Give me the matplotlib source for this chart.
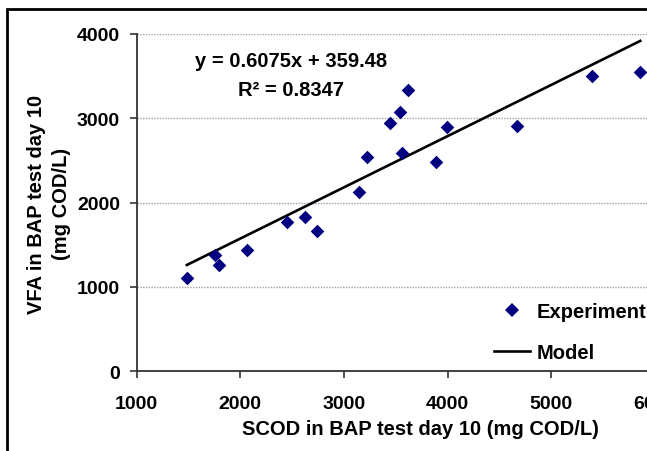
import matplotlib
matplotlib.use('Agg')
import matplotlib.pyplot as plt
from matplotlib.patches import Rectangle
from matplotlib.lines import Line2D

plt.rcParams['font.family'] = ['Liberation Sans', 'DejaVu Sans']
plt.rcParams['font.weight'] = 'bold'

# SCOD vs VFA, BAP test day 10
scod = [1484, 1754, 1790, 2060, 2454, 2621, 2740, 3146, 3221, 3448,
        3536, 3619, 3563, 3885, 3989, 4669, 5396, 5858]
vfa = [1107, 1380, 1265, 1439, 1775, 1830, 1660, 2131, 2538, 2949,
       3080, 3341, 2586, 2483, 2894, 2910, 3507, 3546]
slope, intercept = 0.6075, 359.48
r2 = 0.8347

fig = plt.figure(figsize=(6.47, 4.52), dpi=100)
# axes run past the right edge, as in the cropped original
ax = fig.add_axes([136.7 / 647, 79.7 / 452, 518.3 / 647, 337.3 / 452])

# outer chart frame
fig.patches.append(Rectangle((6.7 / 647, -0.2), 1.3, 1.2 - 10 / 452,
                             transform=fig.transFigure, fill=False,
                             lw=2, ec='black', zorder=0))

ax.scatter(scod, vfa, marker='D', s=48, color='#000080', zorder=3, lw=0)
xfit = [min(scod), max(scod)]
yfit = [slope * x + intercept for x in xfit]
ax.plot(xfit, yfit, color='black', lw=1.9, zorder=2)

ax.set_xlim(1000, 6000)
ax.set_ylim(0, 4000)
ax.set_xticks([1000, 2000, 3000, 4000, 5000, 6000])
ax.set_yticks([0, 1000, 2000, 3000, 4000])
ax.yaxis.grid(True, color='#a0a0a0', ls=(0, (1, 1)), lw=1)
ax.set_axisbelow(True)

for s in ['top', 'right']:
    ax.spines[s].set_visible(False)
for s in ['left', 'bottom']:
    ax.spines[s].set_color('#333333')
    ax.spines[s].set_linewidth(1.3)
ax.tick_params(axis='both', direction='out', length=5, width=1.2,
               color='#333333', labelsize=14)
ax.tick_params(axis='y', pad=7)
ax.tick_params(axis='x', pad=12)

ax.set_xlabel('SCOD in BAP test day 10 (mg COD/L)', fontsize=14.5,
              fontweight='bold')
ax.xaxis.set_label_coords((420 - 136.7) / 518.3, -(430 - 372.3) / 337.3)
ax.xaxis.label.set_va('center')
fig.text(49 / 647, 1 - 204 / 452, 'VFA in BAP test day 10\n(mg COD/L)',
         rotation=90, ha='center', va='center', fontsize=14.5,
         fontweight='bold', linespacing=1.4, multialignment='center')

ax.text(2487, 3681, 'y = 0.6075x + 359.48', ha='center', va='center',
        fontsize=14.5, fontweight='bold')
ax.text(2487, 3337, 'R² = %.4f' % r2, ha='center', va='center',
        fontsize=14.5, fontweight='bold')

handles = [Line2D([], [], marker='D', ls='none', color='#000080', ms=7, mew=0),
           Line2D([], [], color='black', lw=1.9)]
leg = ax.legend(handles, ['Experiment', 'Model'], loc='center left',
                bbox_to_anchor=(494 / 647, 1 - 333 / 452),
                bbox_transform=fig.transFigure, frameon=False, fontsize=14.5,
                handlelength=1.8, handletextpad=0.3, labelspacing=1.05,
                borderpad=0, borderaxespad=0)
for t in leg.get_texts():
    t.set_fontweight('bold')

fig.savefig('out.png', dpi=100)
